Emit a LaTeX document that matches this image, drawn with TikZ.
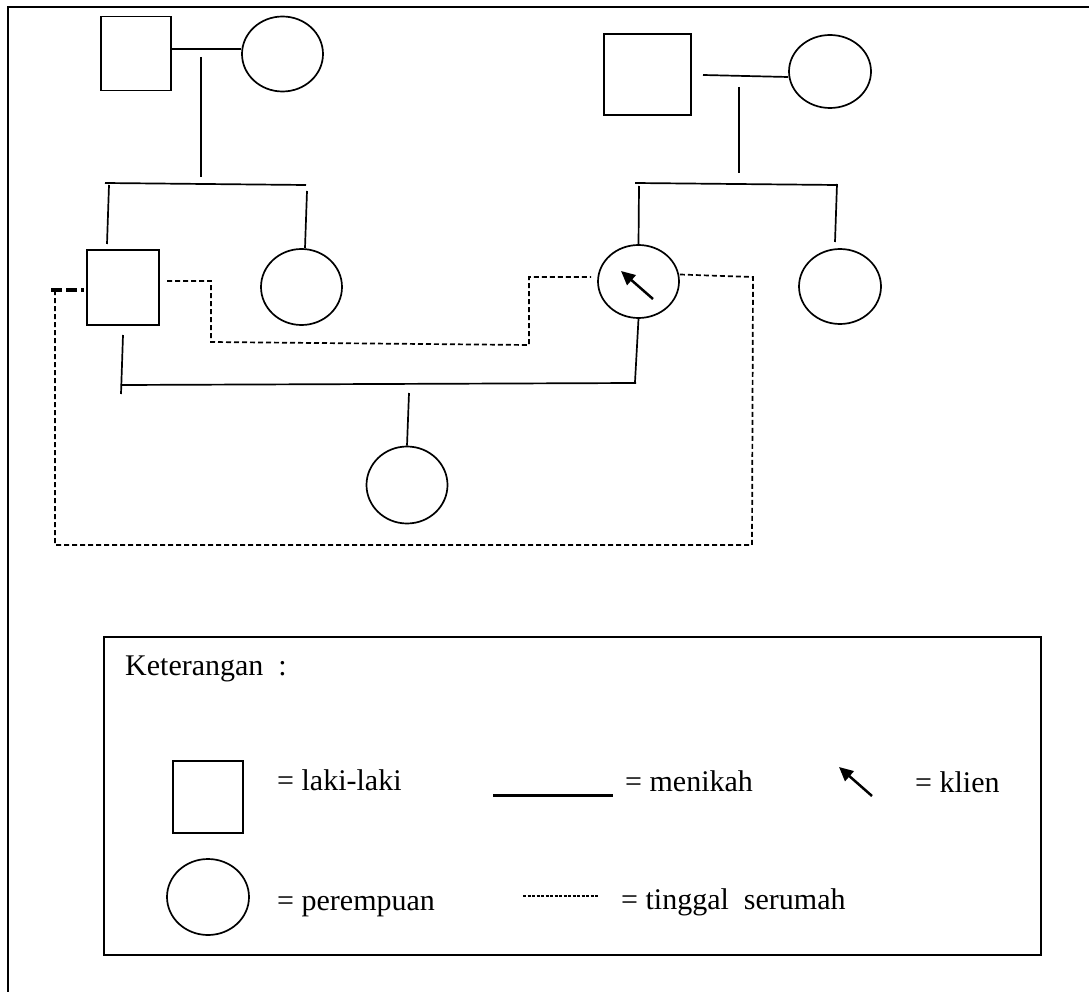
\documentclass[tikz,border=0pt]{standalone}
\usepackage{fontspec}
\setmainfont{Liberation Serif}
\usetikzlibrary{shapes.geometric,arrows.meta}
\begin{document}
\begin{tikzpicture}[x=1pt,y=-1pt,
  male/.style={draw, rectangle, inner sep=0pt, line width=1.7pt},
  female/.style={draw, ellipse, inner sep=0pt, line width=1.7pt},
  link/.style={line width=1.7pt},
  home/.style={line width=1.7pt, dash pattern=on 5pt off 3pt},
  homethick/.style={line width=4pt, dash pattern=on 11pt off 4pt},
  homelegend/.style={line width=1.3pt, dash pattern=on 3pt off 1.5pt},
  pointer/.style={line width=2.5pt, -{Triangle[length=14pt,width=13pt]}},
  legendtext/.style={anchor=base west, inner sep=0pt, font=\fontsize{30}{36}\selectfont}
]
\useasboundingbox (0,0) rectangle (1089,992);
\fill[white] (0,0) rectangle (1089,992);
% page frame
\draw[line width=2.4pt] (8,992) -- (8,7) -- (1089,7);

% grandparents, left side
\node[male, minimum width=70pt, minimum height=74pt] (gf1) at (136,53.5) {};
\node[female, minimum width=81pt, minimum height=75pt] (gm1) at (282.5,54) {};
% grandparents, right side
\node[male, minimum width=87pt, minimum height=81pt] (gf2) at (647.5,74.5) {};
\node[female, minimum width=82pt, minimum height=73pt] (gm2) at (830,71.5) {};
% second generation
\node[male, minimum width=72pt, minimum height=75pt] (father) at (123,287.5) {};
\node[female, minimum width=81pt, minimum height=76pt] (aunt1) at (301.5,287) {};
\node[female, minimum width=81pt, minimum height=73pt] (client) at (638.5,281.5) {};
\node[female, minimum width=82pt, minimum height=75pt] (aunt2) at (840,286.5) {};
% third generation
\node[female, minimum width=81pt, minimum height=77pt] (child) at (407,485) {};

% junction points
\coordinate (d1top) at (201,57);
\coordinate (d1bot) at (201,177);
\coordinate (s1l) at (105,183);
\coordinate (s1r) at (306,185);
\coordinate (s1a) at (109,185);
\coordinate (s1b) at (107,244);
\coordinate (s1c) at (307,191);
\coordinate (s1d) at (305,248);
\coordinate (m2a) at (703,75);
\coordinate (d2top) at (739,87);
\coordinate (d2bot) at (739,173);
\coordinate (s2l) at (635,183);
\coordinate (s2r) at (837,185);
\coordinate (s2a) at (639,186);
\coordinate (s2c) at (837,184);
\coordinate (s2d) at (835,242);
\coordinate (fd1) at (123,335);
\coordinate (fd2) at (121,394);
\coordinate (ml) at (121,385);
\coordinate (mr) at (636,383);
\coordinate (cd) at (635,382);
\coordinate (kd) at (409,393);

% marriages and descent
\draw[link] ([yshift=4.5pt]gf1.east) -- ([yshift=5pt]gm1.west);
\draw[link] (d1top) -- (d1bot);
\draw[link] (s1l) -- (s1r);
\draw[link] (s1a) -- (s1b);
\draw[link] (s1c) -- (s1d);
\draw[link] (m2a) -- ([yshift=-5.5pt]gm2.west);
\draw[link] (d2top) -- (d2bot);
\draw[link] (s2l) -- (s2r);
\draw[link] (s2a) -- (client.north);
\draw[link] (s2c) -- (s2d);
\draw[link] (fd1) -- (fd2);
\draw[link] (ml) -- (mr);
\draw[link] (client.south) -- (cd);
\draw[link] (kd) -- (child.north);

% client marker
\coordinate (ptail) at (653,299);
\coordinate (phead) at (621,271);
\draw[pointer] (ptail) -- (phead);

% household lines
\coordinate (h1) at (167,281);
\coordinate (h2) at (591,277);
\draw[home] (h1) -- (211,281) -- (211,342) -- (529,345) -- (529,277) -- (h2);
\coordinate (h3) at (55,290);
\draw[home] ([yshift=7pt]client.east) -- (753,277) -- (752,545) -- (55,545) -- (h3);
\coordinate (h4) at (51,290);
\draw[homethick] (h4) -- ([yshift=-2.5pt,xshift=-2pt]father.west);

% legend
\node[draw, line width=1.9pt, minimum width=937pt, minimum height=318pt, inner sep=0pt] (legend) at (572.5,796) {};
\node[legendtext] (ket) at (125,675) {Keterangan~ :};
\node[male, minimum width=70pt, minimum height=72pt] (lsq) at (208,797) {};
\node[legendtext] (tl) at (277,790) {= laki-laki};
\coordinate (lm1) at (493,795);
\coordinate (lm2) at (613,795);
\draw[line width=3pt] (lm1) -- (lm2);
\node[legendtext] (tm) at (625,791) {= menikah};
\coordinate (la1) at (872,796);
\coordinate (la2) at (839,767);
\draw[pointer] (la1) -- (la2);
\node[legendtext] (tk) at (915,792) {= klien};
\node[female, minimum width=82pt, minimum height=76pt] (lci) at (208,897) {};
\node[legendtext] (tp) at (277,910) {= perempuan};
\coordinate (ld1) at (523,896);
\coordinate (ld2) at (598,896);
\draw[homelegend] (ld1) -- (ld2);
\node[legendtext] (tt) at (621,909) {= tinggal~ serumah};
\end{tikzpicture}
\end{document}
